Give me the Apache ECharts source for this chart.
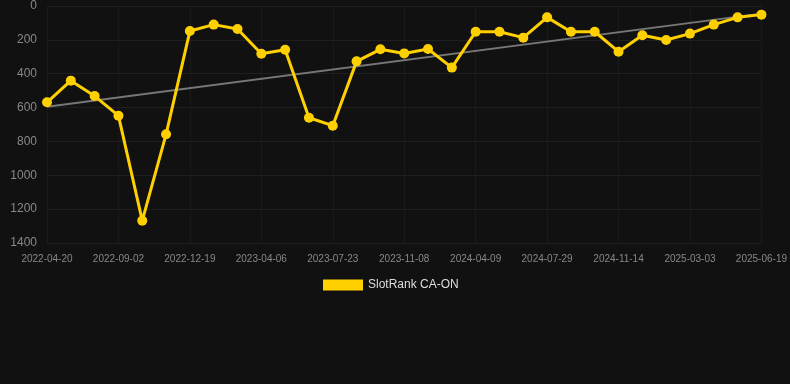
<!DOCTYPE html>
<html>
<head>
<meta charset="utf-8">
<script src="https://cdn.jsdelivr.net/npm/echarts@6/dist/echarts.min.js"></script>
<style>
  html, body { margin: 0; padding: 0; background: #111111; }
  #chart { width: 790px; height: 384px; }
</style>
</head>
<body>
<div id="chart"></div>
<script>
var dates = ['2022-04-20','2022-06-04','2022-07-19','2022-09-02','2022-10-08','2022-11-13',
  '2022-12-19','2023-01-24','2023-03-01','2023-04-06','2023-05-12','2023-06-17',
  '2023-07-23','2023-08-28','2023-10-03','2023-11-08','2023-12-29','2024-02-18',
  '2024-04-09','2024-05-16','2024-06-22','2024-07-29','2024-09-03','2024-10-09',
  '2024-11-14','2024-12-20','2025-01-25','2025-03-03','2025-04-08','2025-05-14','2025-06-19'];
var ranks = [569, 441, 532, 648, 1268, 758,
  148, 110, 136, 282, 258, 660,
  707, 327, 256, 280, 254, 364,
  152, 152, 187, 67, 152, 152,
  270, 173, 201, 163, 110, 67, 51];
var trendStart = 595;
var trendEnd = 45;

var trend = [[dates[0], trendStart], [dates[dates.length - 1], trendEnd]];

var myChart = echarts.init(document.getElementById('chart'));
var option = {
  backgroundColor: '#111111',
  animation: false,
  grid: { left: 47, right: 28, top: 6, bottom: 141 },
  legend: {
    bottom: 88,
    left: 318,
    itemWidth: 40,
    itemHeight: 11,
    itemGap: 10,
    textStyle: { color: '#dddddd', fontSize: 12, fontFamily: 'Liberation Sans, Arial, sans-serif' },
    data: [{ name: 'SlotRank CA-ON', icon: 'rect' }]
  },
  xAxis: {
    type: 'category',
    data: dates,
    boundaryGap: false,
    axisLine: { show: false },
    axisTick: { show: false },
    axisLabel: { interval: 2, color: '#888888', fontSize: 10, margin: 11, fontFamily: 'Liberation Sans, Arial, sans-serif' },
    splitLine: { show: true, interval: 2, lineStyle: { color: '#1a1a1a' } }
  },
  yAxis: {
    type: 'value',
    inverse: true,
    min: 0,
    max: 1400,
    interval: 200,
    axisLine: { show: false },
    axisTick: { show: false },
    axisLabel: {
      color: '#888888', fontSize: 12, margin: 10, fontFamily: 'Liberation Sans, Arial, sans-serif',
      formatter: function (v) { return String(v); }
    },
    splitLine: { lineStyle: { color: '#1f1f1f' } }
  },
  series: [{
    name: 'Trend',
    type: 'line',
    data: trend,
    symbol: 'none',
    silent: true,
    z: 1,
    lineStyle: { color: '#777777', width: 2 }
  }, {
    name: 'SlotRank CA-ON',
    type: 'line',
    data: ranks,
    symbol: 'circle',
    symbolSize: 10,
    z: 2,
    itemStyle: { color: '#ffd000' },
    lineStyle: { color: '#ffd000', width: 3 }
  }]
};
myChart.setOption(option);
</script>
</body>
</html>
